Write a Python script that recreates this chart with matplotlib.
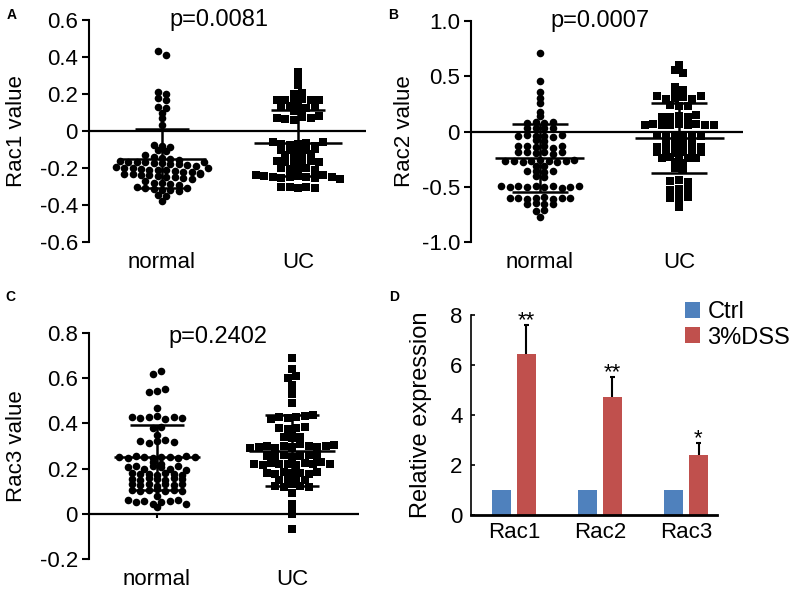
import numpy as np
import matplotlib
matplotlib.use('Agg')
import matplotlib.pyplot as plt

plt.rcParams['font.family'] = ['Liberation Sans', 'DejaVu Sans']

groups = ['normal', 'UC']

# Rac1 (panel A)
rac1_normal = [0.43, 0.41, 0.21, 0.20, 0.18, 0.17, 0.13, 0.125, 0.10, 0.07, 0.03,
               -0.075, -0.08, -0.085, -0.10, -0.11,
               -0.13, -0.14, -0.145, -0.15, -0.155,
               -0.16, -0.165, -0.17, -0.17, -0.175, -0.175, -0.18, -0.18, -0.185, -0.19, -0.165,
               -0.195, -0.2, -0.2, -0.205, -0.21, -0.21, -0.21, -0.215, -0.22, -0.22, -0.225, -0.2,
               -0.23, -0.235, -0.24, -0.24, -0.245, -0.25, -0.25, -0.255, -0.26, -0.235,
               -0.27, -0.28, -0.28, -0.285, -0.29,
               -0.30, -0.31, -0.315, -0.32, -0.32, -0.325, -0.31,
               -0.345, -0.35, -0.38]
rac1_uc = [0.32, 0.29, 0.25, 0.20, 0.205,
           0.17, 0.165, 0.17, 0.175, 0.165, 0.17,
           0.13, 0.135, 0.13, 0.125, 0.13,
           0.11, 0.105,
           0.07, 0.065, 0.06, 0.075, 0.07, 0.08,
           -0.06, -0.07, -0.075, -0.07, -0.065, -0.08, -0.06,
           -0.10, -0.105, -0.11, -0.10, -0.095,
           -0.13, -0.135, -0.13, -0.125,
           -0.16, -0.165, -0.17, -0.165, -0.16, -0.17,
           -0.20, -0.205, -0.21, -0.20, -0.21,
           -0.24, -0.245, -0.25, -0.255, -0.25, -0.245, -0.25, -0.255, -0.24, -0.25, -0.26,
           -0.30, -0.305, -0.31, -0.30, -0.31]

# Rac2 (panel B)
rac2_normal = [0.71, 0.455, 0.356, 0.305, 0.26, 0.18, 0.14,
               0.08, 0.09, 0.078, 0.085,
               0.03, 0.035, 0.028, 0.03,
               -0.04, -0.035, -0.045, -0.04, -0.05, -0.03,
               -0.08, -0.085,
               -0.135, -0.13, -0.14, -0.135, -0.145, -0.13,
               -0.19, -0.185, -0.195, -0.19, -0.2, -0.185,
               -0.27, -0.265, -0.272, -0.27, -0.26, -0.27, -0.272, -0.265, -0.26,
               -0.31, -0.315,
               -0.36, -0.355, -0.365, -0.36,
               -0.40, -0.41,
               -0.495, -0.5, -0.49, -0.505, -0.495, -0.5, -0.49, -0.51, -0.5, -0.495,
               -0.60, -0.605, -0.61, -0.6, -0.595, -0.61, -0.6, -0.605,
               -0.66, -0.65, -0.66, -0.655,
               -0.72, -0.71,
               -0.77]
rac2_uc = [0.605, 0.56, 0.53,
           0.40, 0.38, 0.35, 0.35,
           0.32, 0.29, 0.30, 0.31, 0.29, 0.32,
           0.24, 0.23, 0.235,
           0.13, 0.135, 0.14, 0.13, 0.145,
           0.06, 0.065, 0.055, 0.06, 0.07, 0.06, 0.065, 0.055, 0.06,
           -0.03, -0.035, -0.04, -0.03, -0.035, -0.04,
           -0.10, -0.095, -0.105, -0.1,
           -0.14, -0.135, -0.145, -0.14, -0.13, -0.14,
           -0.19, -0.185, -0.195, -0.19, -0.2, -0.19,
           -0.24, -0.235, -0.245, -0.24, -0.24,
           -0.28, -0.285,
           -0.33, -0.34,
           -0.45, -0.44, -0.46,
           -0.53, -0.54, -0.53, -0.52,
           -0.60, -0.61, -0.59,
           -0.68]

# Rac3 (panel C)
rac3_normal = [0.62, 0.63,
               0.54, 0.545, 0.55,
               0.47,
               0.43, 0.425, 0.43, 0.432, 0.42, 0.428, 0.425,
               0.38, 0.385,
               0.35,
               0.32, 0.315, 0.32, 0.325, 0.318,
               0.25, 0.245, 0.255, 0.25, 0.248, 0.252, 0.25, 0.245, 0.255, 0.25,
               0.228, 0.222,
               0.205, 0.21, 0.2, 0.21, 0.205, 0.2, 0.21, 0.195,
               0.18, 0.175, 0.178, 0.17, 0.18, 0.175, 0.172,
               0.155, 0.15, 0.158, 0.155, 0.15, 0.16, 0.155,
               0.13, 0.128, 0.132, 0.125, 0.13, 0.128, 0.13,
               0.105, 0.1, 0.105, 0.11, 0.1, 0.105, 0.1,
               0.08,
               0.06, 0.05, 0.055, 0.045, 0.05, 0.055, 0.06, 0.045,
               0.03]
rac3_uc = [0.69, 0.64, 0.60, 0.61, 0.57, 0.55, 0.53, 0.49,
           0.42, 0.43, 0.425, 0.43, 0.432, 0.435,
           0.38, 0.375, 0.38, 0.385,
           0.34, 0.345, 0.34, 0.335,
           0.29, 0.295, 0.3, 0.29, 0.3, 0.295, 0.31, 0.3, 0.295, 0.3, 0.305,
           0.257, 0.255, 0.26, 0.25, 0.257, 0.26, 0.255,
           0.22, 0.215, 0.225, 0.22, 0.22, 0.215, 0.225, 0.22, 0.23, 0.22,
           0.18, 0.175, 0.185, 0.18, 0.18, 0.175, 0.185,
           0.15, 0.155, 0.145, 0.15,
           0.125, 0.12, 0.13, 0.125, 0.12,
           0.093, 0.045, 0.02, 0.0, -0.066]

# mean and SD as drawn
means = [[-0.15, -0.065], [-0.24, -0.055], [0.25, 0.28]]
sds = [[0.16, 0.178], [0.31, 0.317], [0.145, 0.158]]

p_texts = ['p=0.0081', 'p=0.0007', 'p=0.2402']
ylabels = ['Rac1 value', 'Rac2 value', 'Rac3 value']
yticks_list = [[-0.6, -0.4, -0.2, 0, 0.2, 0.4, 0.6],
               [-1.0, -0.5, 0, 0.5, 1.0],
               [-0.2, 0, 0.2, 0.4, 0.6, 0.8]]
ytick_labels = [['-0.6', '-0.4', '-0.2', '0', '0.2', '0.4', '0.6'],
                ['-1.0', '-0.5', '0', '0.5', '1.0'],
                ['-0.2', '0', '0.2', '0.4', '0.6', '0.8']]

# panel D
genes = ['Rac1', 'Rac2', 'Rac3']
ctrl_expr = [1, 1, 1]
dss_expr = [6.45, 4.73, 2.4]
dss_err = [1.15, 0.8, 0.47]
stars = ['**', '**', '*']

FS = 16
W, H = 800, 599
fig = plt.figure(figsize=(8, 5.99), dpi=100)


def rect(l, t, r, b):
    return [l / W, (H - b) / H, (r - l) / W, (b - t) / H]


def swarm(vals, center, binw, dx):
    vals = np.asarray(vals, dtype=float)
    rows = np.round(vals / binw)
    xs = np.zeros(len(vals))
    for r in np.unique(rows):
        idx = np.where(rows == r)[0]
        n = len(idx)
        xs[idx] = center + (np.arange(n) - (n - 1) / 2) * dx
    return xs


def dot_panel(box, k, data, xlim, binw, ylab_x, ptx, pty):
    ax = fig.add_axes(box)
    for i, (vals, mk) in enumerate(zip(data, ['o', 's'])):
        x0 = i + 1
        xs = swarm(vals, x0, binw, 0.062)
        ax.scatter(xs, vals, s=30, marker=mk, c='black', linewidths=0, zorder=3)
        m, sd = means[k][i], sds[k][i]
        ax.hlines(m, x0 - 0.32, x0 + 0.32, color='black', lw=1.8, zorder=4)
        ax.hlines([m - sd, m + sd], x0 - 0.2, x0 + 0.2, color='black', lw=1.8, zorder=4)
        ax.vlines(x0, m - sd, m + sd, color='black', lw=1.8, zorder=4)
    ax.axhline(0, color='black', lw=1.6, zorder=2)
    ax.set_xlim(*xlim)
    ax.set_ylim(yticks_list[k][0], yticks_list[k][-1])
    ax.set_yticks(yticks_list[k], ytick_labels[k], fontsize=FS)
    ax.set_xticks([1, 2], groups, fontsize=FS)
    ax.tick_params(axis='x', length=0, pad=7)
    ax.tick_params(axis='y', direction='out', length=5, width=1.5, pad=3)
    for s in ['top', 'right', 'bottom']:
        ax.spines[s].set_visible(False)
    ax.spines['left'].set_linewidth(1.5)
    ax.set_ylabel(ylabels[k], fontsize=FS)
    ax.yaxis.set_label_coords(ylab_x, 0.5)
    ax.text(ptx, pty, p_texts[k], transform=ax.transAxes, fontsize=FS + 1,
            ha='center', va='center')
    return ax


dot_panel(rect(89, 20, 366, 242), 0, [rac1_normal, rac1_uc], (0.463, 2.5), 0.035, -0.224, 0.469, 1.0)
dot_panel(rect(471, 21, 743, 242), 1, [rac2_normal, rac2_uc], (0.504, 2.46), 0.05, -0.206, 0.474, 1.0)
axc = dot_panel(rect(89, 333, 359, 559), 2, [rac3_normal, rac3_uc], (0.496, 2.496), 0.025, -0.23, 0.478, 0.982)
axc.vlines([1, 2], -0.02, 0, color='black', lw=1.5, zorder=2)

# panel D: bar chart
axd = fig.add_axes(rect(471, 315, 717, 515))
x = np.arange(len(genes))
dss_top = np.array(dss_expr) + np.array(dss_err)
axd.bar(x - 0.145, ctrl_expr, width=0.22, color='#4F81BD', label='Ctrl', zorder=2)
axd.bar(x + 0.145, dss_expr, width=0.22, color='#C0504D', label='3%DSS', zorder=2)
axd.vlines(x + 0.145, dss_expr, dss_top, color='black', lw=1.5, zorder=3)
axd.hlines(dss_top, x + 0.145 - 0.025, x + 0.145 + 0.025, color='black', lw=1.5, zorder=3)
for xi, top, st in zip(x, dss_top, stars):
    axd.text(xi + 0.145, top - 0.05, st, ha='center', va='baseline', fontsize=FS)
axd.set_xlim(-0.5, 2.36)
axd.set_ylim(0, 8)
axd.set_yticks([0, 2, 4, 6, 8])
axd.set_xticks(x, genes)
axd.tick_params(axis='both', labelsize=FS)
axd.tick_params(axis='y', direction='in', length=3, width=1.2, pad=6)
axd.tick_params(axis='x', length=0, pad=5)
for s in ['top', 'right']:
    axd.spines[s].set_visible(False)
axd.spines['left'].set_linewidth(1.2)
axd.spines['bottom'].set_linewidth(2)
axd.set_ylabel('Relative expression', fontsize=FS + 1)
axd.yaxis.set_label_coords(-0.159, 0.5)
axd.legend(loc='upper left', bbox_to_anchor=(685 / W, 1 - 301 / H),
           bbox_transform=fig.transFigure, frameon=False, fontsize=FS + 1,
           handlelength=0.65, handleheight=0.65, handletextpad=0.3,
           labelspacing=0.15, borderpad=0, borderaxespad=0)

# panel letters
for lab, px, py in [('A', 12, 15), ('B', 393, 15), ('C', 10, 297), ('D', 394, 297)]:
    fig.text(px / W, 1 - py / H, lab, fontsize=10, fontweight='bold', ha='center', va='center')

fig.savefig('out.png', dpi=100)
